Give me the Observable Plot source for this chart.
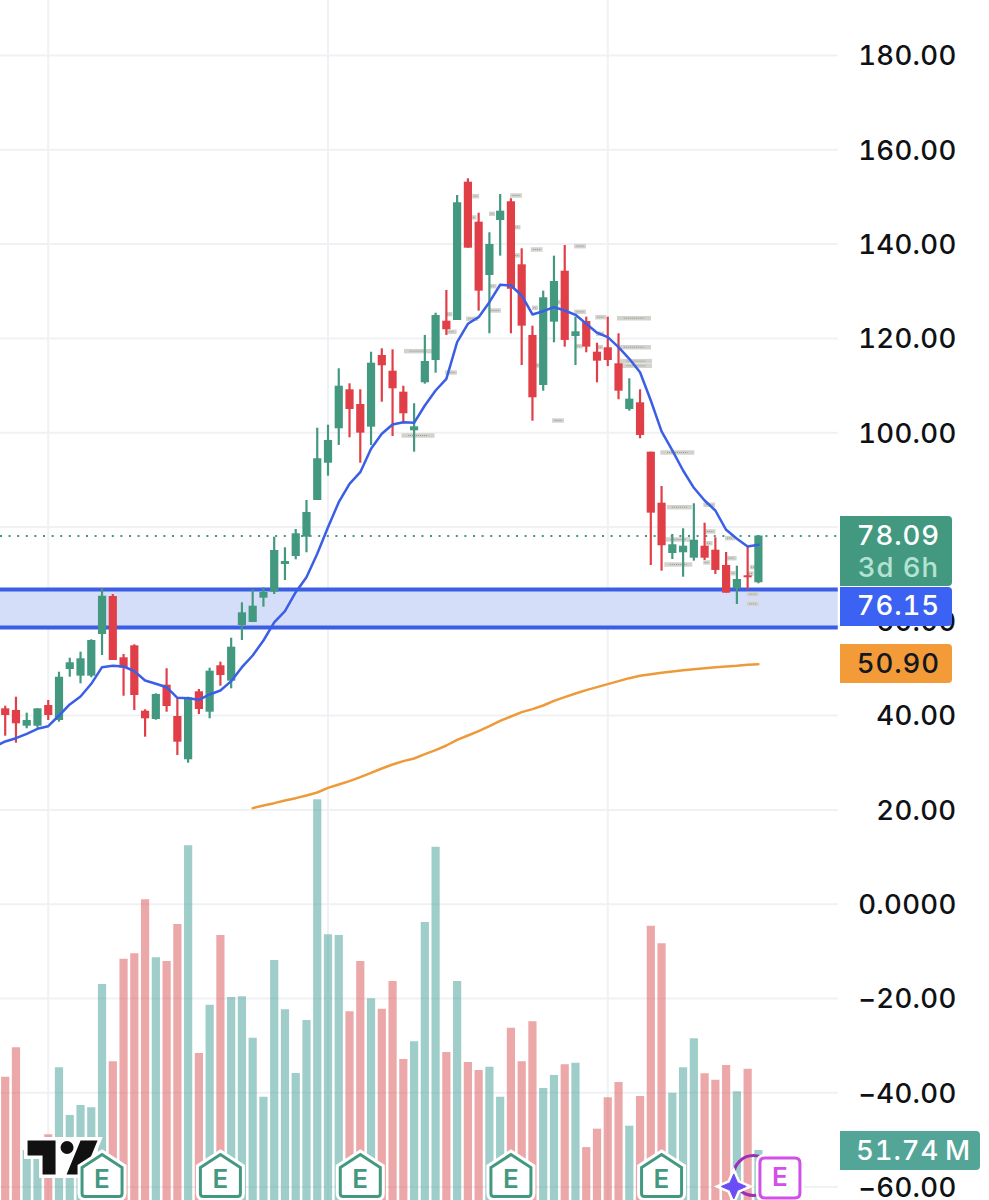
<!DOCTYPE html>
<html><head><meta charset="utf-8">
<style>html,body{margin:0;padding:0;background:#fff}svg{display:block}
svg text{letter-spacing:.3px;font-variant-numeric:tabular-nums;font-feature-settings:'tnum'}
g.badge text{letter-spacing:.9px}</style>
<script src="https://cdn.jsdelivr.net/npm/d3@7"></script>
<script src="https://cdn.jsdelivr.net/npm/@observablehq/plot@0.6"></script>
</head><body><div id="chart"></div>
<script>
const open  = [41.44,41.08,37.75,37.75,42.14,38.96,49.78,48.36,48.36,57.2,65.26,52.26,54.8,40.93,39.17,46.45,39.81,30.63,45.05,40.72,50.56,47.3,59.11,59.75,64.9,66.17,72.05,73.74,77.84,85.62,93.53,100.83,109.1,105.98,101.17,116.37,113.04,108.59,100.4,110.58,115.31,123.65,123.8,153.13,144.65,133.34,145,148.97,135.61,120.62,110.01,123.44,134.25,120.4,123.58,117.07,118.01,114.61,104.92,106.34,95.87,85.05,74.38,74.53,73.38,75.93,75.08,71.83,66.89,69.65,68.17];
const close = [40.02,38.26,38.96,41.44,40.02,48.14,51.2,52.05,55.93,65.32,51.69,50.05,44.26,39.32,44.48,41.93,34.36,43.78,41.29,49.42,48.5,54.51,61.8,63.2,66.11,75.02,72.68,78.56,83.08,94.47,98.35,109.86,104.92,99.9,114.74,114.19,109.31,104.01,101.25,115.1,124.86,121.83,148.76,139.13,130.01,139.92,146.98,130.44,122.59,107.4,128.61,132.07,119.56,121.4,118.14,115.17,115.31,108.8,107.11,99.41,82.93,76.01,76.23,75.93,77.2,73.38,70.78,65.96,68.87,69.23,78.09];
const high  = [41.99,43.9,40.51,41.44,43.2,49.2,52.17,53.45,56.08,66.89,65.68,52.96,55.02,41.23,44.62,49.93,43.56,43.9,45.54,50.05,51.33,56.42,63.92,66.68,67.11,77.84,75.59,79.47,85.62,100.95,101.59,113.55,110.37,109.1,117.07,117.79,117.58,109.86,106.13,120.62,125.34,130.16,150.31,153.85,146.55,142.4,150.52,149.61,139,122.59,130.01,137.44,139.71,124.5,124.5,118.98,124.5,120.98,111.43,109.1,95.87,88.59,78.41,79.62,84.92,80.81,77.71,74.59,71.69,75.87,78.2];
const low   = [35.63,34.15,37.2,37.33,38.96,38.6,48.14,46.74,48.02,52.75,51.69,44.11,41.08,35.42,39.02,40.72,31.54,29.9,40.23,39.32,46.24,45.68,55.93,59.75,62.99,65.68,68.65,73.04,74.53,85.62,90.77,97.29,98.92,93.53,97.29,106.47,99.19,101.89,95.87,110.29,112.62,120.62,123.8,139.13,125.77,120.98,137.44,120.98,114.25,102.44,108.8,119.07,118.14,114.25,116.95,110.58,114.04,106.98,104.56,98.71,71.83,70.63,73.11,69.35,72.75,72.9,69.93,65.96,63.56,66.68,67.95];
// volume, millions
const volume = [127.6,158,51.7,49.7,68,137.3,88,98.3,95.9,223.5,143.5,249.7,255.3,311.2,251.1,247.3,285.6,367,152.1,202.1,274.2,210.1,210.8,168,106.9,248.4,197.3,131.4,186.3,414.6,274.9,274.2,195.3,247.3,208.7,198,226.6,145.9,164.2,287.7,365.6,153.2,226.6,142.8,134.5,137.9,106.9,178.3,143.5,184.9,115.9,129.4,140.4,142.1,54.8,73.8,106.3,122.1,76.9,107.6,283.9,265.6,111,137.3,167.3,131.1,124.5,139.7,112.5,135.9,51.74];
// blue average: first value belongs to the bar just off the left edge
const maBlueStart = -1;
const maBlue = [33.4,34.51,35.21,36.14,37.2,37.75,40.02,42.36,44.05,46.74,50.27,50.56,50.41,49.42,47.44,46.74,46.02,43.78,43.69,43.35,44.48,45.32,47.3,50.27,52.75,55.93,59.75,62.14,66.17,69.35,74.32,79.96,85.26,89.16,91.62,96.59,99.77,101.74,102.23,102.1,105.77,108.95,111.43,119.19,123.1,124.5,127.68,131.37,131.22,129.1,125.07,125.77,126.62,125.92,125,123.1,121.19,120.26,118.14,115.67,112.83,106.83,100.26,96.23,91.98,88.31,85.62,83.5,79.41,77.5,75.87,76.23];
const maOrangeStart = 23;
const maOrange = [20.37,20.93,21.43,22,22.49,23.06,23.69,24.68,25.39,26.1,26.94,27.86,28.78,29.63,30.34,30.9,31.82,32.67,33.66,34.86,35.78,36.7,37.76,38.89,39.81,40.73,41.37,42.14,43.13,43.91,44.69,45.4,46.03,46.67,47.31,47.94,48.44,48.79,49.07,49.36,49.64,49.85,50.06,50.27,50.42,50.56,50.77,50.9];
const yGrid = [180,160,140,120,100,80,60,40,20,0,-20,-40,-60];
const yLabels = [180,160,140,120,100,60,40,20,0,-20,-40,-60];
const xGridBars = [4,30,56];
const zoneTop = 66.75, zoneBottom = 58.68, lastPrice = 78.09;
const earningsBars = [9,20,33,47,61];
// small grey event tags: bar position, price, span in bars
const tagBar   = [38.41,38.41,43.77,47.52,43.52,47.61,45.29,49.44,53.47,47.61,45.38,45.57,41.29,43.43,41.54,41.48,49.28,53.47,55.39,58.48,55.33,58.48,53.37,55.33,58.67,58.67,51.42,49.56,51.42,62.51,62.7,65.48,65.55,65.46,67.56,65.24,67.41,62.57,62.6,69.52,69.33,67.69,69.52,69.52];
const tagPrice = [117.29,99.41,150.16,150.31,145.64,143.59,146.43,138.86,139.56,137.59,131.07,125.92,125.13,124.16,121.4,112.77,126.49,125.64,124.5,124.29,120.98,118.14,118.35,118.14,115.17,114.19,102.59,114.25,127.68,95.8,84.2,84.71,79.05,76.56,73.38,72.47,77.63,77.35,72.05,71.47,70.14,70.2,65.75,63.71];
const tagSpan  = [2.6,3.07,.65,1.1,.65,.65,.55,1.1,1.1,.55,.65,1.1,.65,1.1,.93,1.1,.55,1.1,1.02,3.16,.74,3.16,.65,.55,2.97,2.97,1.1,.37,.46,3.16,2.32,1.1,1.02,.65,.93,.65,.93,2.32,2.6,.55,.55,.46,1.1,1.1];
// price-scale badges at the right
const badgeText  = ["78.09","76.15","50.90","51.74\u2009M"];
const badgeFill  = ["#439980","#3b62f2","#f29b38","#52a597"];
const badgeInk   = ["#ffffff","#ffffff","#131722","#ffffff"];
const badgeTop   = [82.23,67.17,55.08,-48.21];
const badgeBot   = [67.38,58.9,46.81,-56.48];
const badgeMid   = [78.0,63.14,50.84,-52.3];
const badgeRight = [88.04,88.04,88.04,90.64];
const badgeCentre= [83.0,83.0,83.0,84.41];
const countdown = "3d 6h", countdownY = 71.2;

const GREEN="#439980", RED="#e13f48", BLUE="#3a5fe6", ORANGE="#ee9a39", GRID="#f0f1f4", FONT="Inter, 'Noto Sans', sans-serif";
const xMin=-0.437, xMax=88.41, panelEnd=77.42, badgeL=77.63, badgeSquareEnd=80;
const yMin=-62.84, yMax=191.66, volPerM=0.20495;

const bars = open.map((o,i)=>({i,o,c:close[i],h:high[i],l:low[i],v:volume[i],up:close[i]>=o}));
const blue = maBlue.map((v,k)=>({i:k+maBlueStart,v}));
const orange = maOrange.map((v,k)=>({i:k+maOrangeStart,v}));
const tags = tagBar.map((b,k)=>({x1:b-tagSpan[k]/2,x2:b+tagSpan[k]/2,y:tagPrice[k]}));
const badges = badgeText.map((t,k)=>({t,fill:badgeFill[k],ink:badgeInk[k],y1:badgeTop[k],y2:badgeBot[k],mid:badgeMid[k],r:badgeRight[k],c:badgeCentre[k]}));

const house={draw(c){c.moveTo(0,-22);c.lineTo(20,-9);c.lineTo(20,17);c.quadraticCurveTo(20,20,17,20);c.lineTo(-17,20);c.quadraticCurveTo(-20,20,-20,17);c.lineTo(-20,-9);c.closePath();}};
const roundSq={draw(c){const r=5,s=20;c.moveTo(-s+r,-s);c.lineTo(s-r,-s);c.quadraticCurveTo(s,-s,s,-s+r);c.lineTo(s,s-r);c.quadraticCurveTo(s,s,s-r,s);c.lineTo(-s+r,s);c.quadraticCurveTo(-s,s,-s,s-r);c.lineTo(-s,-s+r);c.quadraticCurveTo(-s,-s,-s+r,-s);c.closePath();}};
const star={draw(c){const a=12.5,b=3.8;c.moveTo(0,-a);c.lineTo(b,-b);c.lineTo(a,0);c.lineTo(b,b);c.lineTo(0,a);c.lineTo(-b,b);c.lineTo(-a,0);c.lineTo(-b,-b);c.closePath();}};
const logoHalo={draw(c){c.moveTo(-35,-17);c.lineTo(35,-17);c.lineTo(21,17);c.lineTo(-20,17);c.lineTo(-20,-2);c.lineTo(-35,-2);c.closePath();}};
const logoInk={draw(c){c.moveTo(-35,-17);c.lineTo(-7,-17);c.lineTo(-7,17);c.lineTo(-20,17);c.lineTo(-20,-2);c.lineTo(-35,-2);c.closePath();
 c.moveTo(18,-17);c.lineTo(35,-17);c.lineTo(21,17);c.lineTo(4,17);c.closePath();
 c.moveTo(11,-10);c.arc(4.5,-10,6.5,0,2*Math.PI);c.closePath();}};
const fmt=d=>d===0?"0.0000":(d<0?"\u2212":"")+Math.abs(d).toFixed(2);

const plot = Plot.plot({
  width:989,height:1200,marginTop:0,marginBottom:0,marginLeft:0,marginRight:33,
  style:{background:"#fff",fontFamily:FONT},
  x:{domain:[xMin,xMax],axis:null},
  y:{domain:[yMin,yMax],axis:null},
  marks:[
    Plot.ruleX(xGridBars,{stroke:GRID,strokeWidth:2}),
    Plot.ruleY(yGrid,{x1:xMin,x2:panelEnd,stroke:GRID,strokeWidth:2}),
    Plot.rect([0],{x1:xMin,x2:panelEnd,y1:zoneTop,y2:zoneBottom,fill:"#d5def9"}),
    Plot.ruleY([zoneTop,zoneBottom],{x1:xMin,x2:panelEnd,stroke:BLUE,strokeWidth:4}),
    Plot.ruleY([lastPrice],{x1:xMin,x2:panelEnd,stroke:GREEN,strokeWidth:2,strokeDasharray:"2 6.6"}),
    Plot.ruleX(bars,{x:"i",y1:yMin,y2:d=>yMin+d.v*volPerM,stroke:d=>d.up?"#3f9e95":"#da5252",strokeOpacity:.5,strokeWidth:8.2}),
    Plot.ruleY(tags,{y:"y",x1:"x1",x2:"x2",stroke:"#d3d3ce",strokeWidth:4.5}),
    Plot.ruleY(tags,{y:"y",x1:d=>d.x1+(d.x2-d.x1)*.2,x2:d=>d.x2-(d.x2-d.x1)*.2,stroke:"#777",strokeWidth:1,strokeDasharray:"1 1",strokeOpacity:.7}),
    Plot.line(orange,{x:"i",y:"v",stroke:ORANGE,strokeWidth:2.5,curve:"linear"}),
    Plot.ruleX(bars,{x:"i",y1:"l",y2:"h",stroke:d=>d.up?GREEN:RED,strokeWidth:2.2}),
    Plot.ruleX(bars,{x:"i",y1:"o",y2:"c",stroke:d=>d.up?GREEN:RED,strokeWidth:8.2}),
    Plot.line(blue,{x:"i",y:"v",stroke:BLUE,strokeWidth:2.5,curve:"linear"}),
    Plot.axisY(yLabels,{anchor:"right",tickSize:0,tickPadding:0,textAnchor:"end",tickFormat:fmt,fontSize:27.5,fontWeight:500,color:"#0f1115",label:null,dy:1}),
    Plot.rect(badges,{x1:badgeL,x2:"r",y1:"y1",y2:"y2",fill:"fill",rx:4}),
    Plot.rect(badges,{x1:badgeL,x2:badgeSquareEnd,y1:"y1",y2:"y2",fill:"fill"}),
    Plot.text(badges,{x:"c",y:"mid",text:"t",fill:"ink",fontSize:27.5,fontWeight:500,className:"badge"}),
    Plot.text([countdown],{x:83,y:countdownY,text:d=>d,fill:"#b4e3d4",fontSize:27.5,fontWeight:500,className:"badge"}),
    Plot.dot([0],{x:5.33,y:-53.72,symbol:logoHalo,fill:"#fff",stroke:"#fff",strokeWidth:7}),
    Plot.dot([0],{x:5.33,y:-53.72,symbol:logoInk,fill:"#111",stroke:"none"}),
    Plot.dot(earningsBars,{x:d=>d,y:-57.75,symbol:house,fill:"none",stroke:"#fff",strokeWidth:9}),
    Plot.dot(earningsBars,{x:d=>d,y:-57.75,symbol:house,fill:"#fff",stroke:GREEN,strokeWidth:3}),
    Plot.text(earningsBars,{x:d=>d,y:-58.5,text:()=>"E",fill:GREEN,fontSize:26,fontWeight:600}),
    Plot.dot([0],{x:69.55,y:-57.54,r:20,fill:"none",stroke:"#9c2fb8",strokeWidth:3}),
    Plot.dot([0],{x:67.71,y:-59.87,symbol:star,fill:"#fff",stroke:"#fff",strokeWidth:6}),
    Plot.dot([0],{x:67.71,y:-59.87,symbol:star,fill:"#6a4df5",stroke:"#6a4df5",strokeWidth:1}),
    Plot.dot([0],{x:72,y:-58.07,symbol:roundSq,fill:"#fff",stroke:"#fff",strokeWidth:8}),
    Plot.dot([0],{x:72,y:-58.07,symbol:roundSq,fill:"#fff",stroke:"#d050e8",strokeWidth:3}),
    Plot.text([0],{x:72,y:-58.07,text:()=>"E",fill:"#d050e8",fontSize:26,fontWeight:600})
  ]
});
document.getElementById("chart").appendChild(plot);
</script></body></html>
